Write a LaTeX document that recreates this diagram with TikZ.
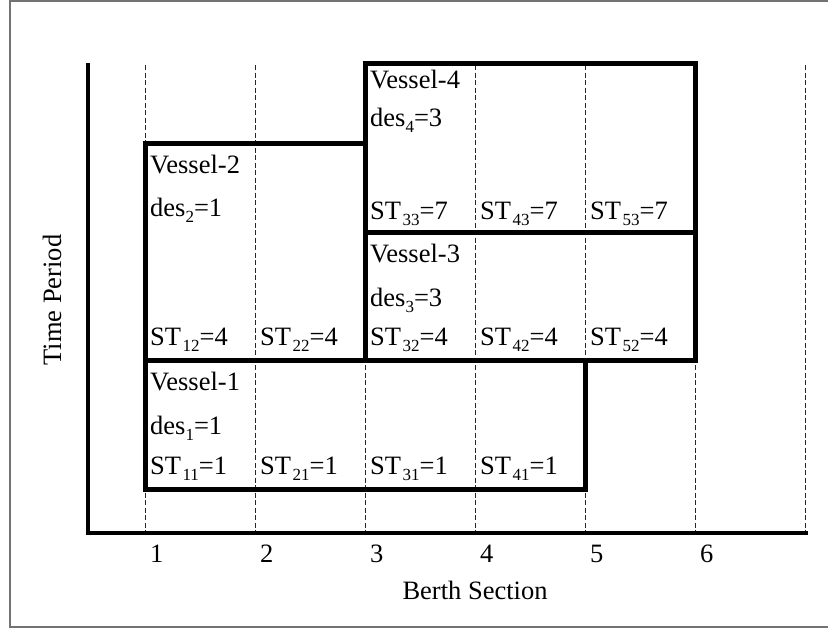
\documentclass[tikz,border=0pt]{standalone}
\usepackage{fontspec}
\setmainfont{Liberation Serif}
% lowered, reduced index after a label
\newcommand\sbs[1]{\raisebox{-6.5pt}{\fontsize{17}{17}\selectfont #1}}
\begin{document}
\begin{tikzpicture}[x=1pt,y=-1pt,
  lbl/.style={anchor=base west,inner sep=0pt,font=\fontsize{26.5}{30}\selectfont},
  vbox/.style={line width=5pt,line join=miter},
  grid/.style={line width=0.9pt,dash pattern=on 5pt off 2.5pt,black!85},
  axis/.style={line width=4pt}]
\useasboundingbox (0,0) rectangle (828,632);
% outer frame
\draw[black!55,line width=1.5pt] (830,1) -- (10,1) -- (10,627) -- (830,627);
% berth section grid lines
\foreach \i in {0,...,6}
  \draw[grid] (145+110*\i,65) -- (145+110*\i,533);
% axes
\draw[axis] (88,63) -- (88,533) -- (808,533);
% vessel blocks
\draw[vbox] (145,143) rectangle (365,360);
\draw[vbox] (365,63) rectangle (695,232);
\draw[vbox] (365,232) rectangle (695,360);
\draw[vbox] (145,360) rectangle (585,489);
% Vessel-1
\node[lbl] (v1) at (150,390) {Vessel-1};
\node[lbl] (d1) at (150,434) {des\sbs{1}=1};
\node[lbl] (s11) at (150,474) {ST\kern1.5pt\sbs{11}=1};
\node[lbl] (s21) at (260,474) {ST\kern1.5pt\sbs{21}=1};
\node[lbl] (s31) at (370,474) {ST\kern1.5pt\sbs{31}=1};
\node[lbl] (s41) at (480,474) {ST\kern1.5pt\sbs{41}=1};
% Vessel-2
\node[lbl] (v2) at (150,173) {Vessel-2};
\node[lbl] (d2) at (150,216) {des\sbs{2}=1};
\node[lbl] (s12) at (150,345) {ST\kern1.5pt\sbs{12}=4};
\node[lbl] (s22) at (260,345) {ST\kern1.5pt\sbs{22}=4};
% Vessel-3
\node[lbl] (v3) at (370,262) {Vessel-3};
\node[lbl] (d3) at (370,306) {des\sbs{3}=3};
\node[lbl] (s32) at (370,345) {ST\kern1.5pt\sbs{32}=4};
\node[lbl] (s42) at (480,345) {ST\kern1.5pt\sbs{42}=4};
\node[lbl] (s52) at (590,345) {ST\kern1.5pt\sbs{52}=4};
% Vessel-4
\node[lbl] (v4) at (370,88) {Vessel-4};
\node[lbl] (d4) at (370,126) {des\sbs{4}=3};
\node[lbl] (s33) at (370,219) {ST\kern1.5pt\sbs{33}=7};
\node[lbl] (s43) at (480,219) {ST\kern1.5pt\sbs{43}=7};
\node[lbl] (s53) at (590,219) {ST\kern1.5pt\sbs{53}=7};
% axis labels
\foreach \i in {1,...,6}
  \node[lbl] (b\i) at (150+110*\i-110,562) {\i};
\node[anchor=base,inner sep=0pt,font=\fontsize{26.5}{30}\selectfont] (xl) at (475,599) {Berth Section};
\node[anchor=base,inner sep=0pt,rotate=90,font=\fontsize{26.5}{30}\selectfont] (yl) at (61,300) {Time Period};
\end{tikzpicture}
\end{document}
